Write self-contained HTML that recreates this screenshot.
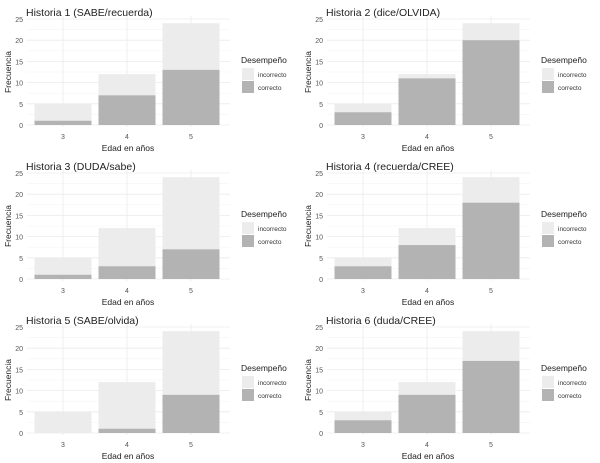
<!DOCTYPE html>
<html><head><meta charset="utf-8">
<style>
body{margin:0;background:#fff;width:600px;height:463px;overflow:hidden;font-family:"Liberation Sans",sans-serif;}
svg{display:block}
</style></head>
<body>
<svg id="chart" width="600" height="463"></svg>
<script>
const categories = ["3","4","5"];
const titles = ["Historia 1 (SABE/recuerda)","Historia 2 (dice/OLVIDA)","Historia 3 (DUDA/sabe)","Historia 4 (recuerda/CREE)","Historia 5 (SABE/olvida)","Historia 6 (duda/CREE)"];
const totals = [[5,12,24],[5,12,24],[5,12,24],[5,12,24],[5,12,24],[5,12,24]];
const correcto = [[1,7,13],[3,11,20],[1,3,7],[3,8,18],[0,1,9],[3,9,17]];
const yTicks = [0,5,10,15,20,25];

const NS="http://www.w3.org/2000/svg";
const svg=document.getElementById('chart');
function mk(tag,attrs,parent,text){const e=document.createElementNS(NS,tag);for(const k in attrs)e.setAttribute(k,attrs[k]);if(text!==undefined)e.textContent=text;parent.appendChild(e);return e;}

titles.forEach((t,p)=>{
  const ox=(p%2)*300, oy=Math.floor(p/2)*154;
  const g=mk('g',{},svg);
  
  
  const y0=oy+125, yTop=oy+19;
  const ys=v=>y0-(y0-yTop)*v/25;
  const xs=i=>ox+63+i*64;
  const left=ox+27,right=ox+230;
  // minor grid
  for(let v=2.5;v<25;v+=5){mk('line',{x1:left,x2:right,y1:ys(v),y2:ys(v),stroke:'#f4f4f4','stroke-width':0.6},g);}
  yTicks.forEach(v=>{
    const l=mk('line',{x1:left,x2:right,y1:ys(v),y2:ys(v),stroke:'#ebebeb','stroke-width':0.8},g);
    
    const tx=mk('text',{x:left-4,y:ys(v)+3,'font-size':7,fill:'#555','text-anchor':'end'},g,String(v));
    
  });
  categories.forEach((c,i)=>{
    mk('line',{x1:xs(i),x2:xs(i),y1:yTop-3,y2:y0+2,stroke:'#ebebeb','stroke-width':0.8},g);
  });
  categories.forEach((c,i)=>{
    const tot=totals[p][i],cor=correcto[p][i];
    const r1=mk('rect',{x:xs(i)-28.5,y:ys(tot),width:57,height:ys(0)-ys(tot),fill:'#ececec'},g);
    
    const r2=mk('rect',{x:xs(i)-28.5,y:ys(cor),width:57,height:ys(0)-ys(cor),fill:'#b3b3b3'},g);
    
    const tl=mk('text',{x:xs(i),y:y0+14,'font-size':7,fill:'#555','text-anchor':'middle'},g,c);
    
  });
  const ti=mk('text',{x:ox+26,y:oy+16,'font-size':10.5,fill:'#222'},g,t);
  
  const xt=mk('text',{x:ox+128,y:oy+151,'font-size':8.5,fill:'#222','text-anchor':'middle'},g,'Edad en años');
  
  const yt=mk('text',{x:0,y:0,'font-size':8.5,fill:'#222','text-anchor':'middle',transform:`translate(${ox+11},${oy+72}) rotate(-90)`},g,'Frecuencia');
  
  const lg=mk('g',{},g);
  
  mk('text',{x:ox+241,y:oy+63,'font-size':8.5,fill:'#222'},lg,'Desempeño');
  mk('rect',{x:ox+242,y:oy+68,width:12,height:12,fill:'#ececec'},lg);
  mk('rect',{x:ox+242,y:oy+81,width:12,height:12,fill:'#b3b3b3'},lg);
  mk('text',{x:ox+258,y:oy+77,'font-size':6.5,fill:'#333'},lg,'incorrecto');
  mk('text',{x:ox+258,y:oy+90,'font-size':6.5,fill:'#333'},lg,'correcto');
});
</script>
</body></html>
